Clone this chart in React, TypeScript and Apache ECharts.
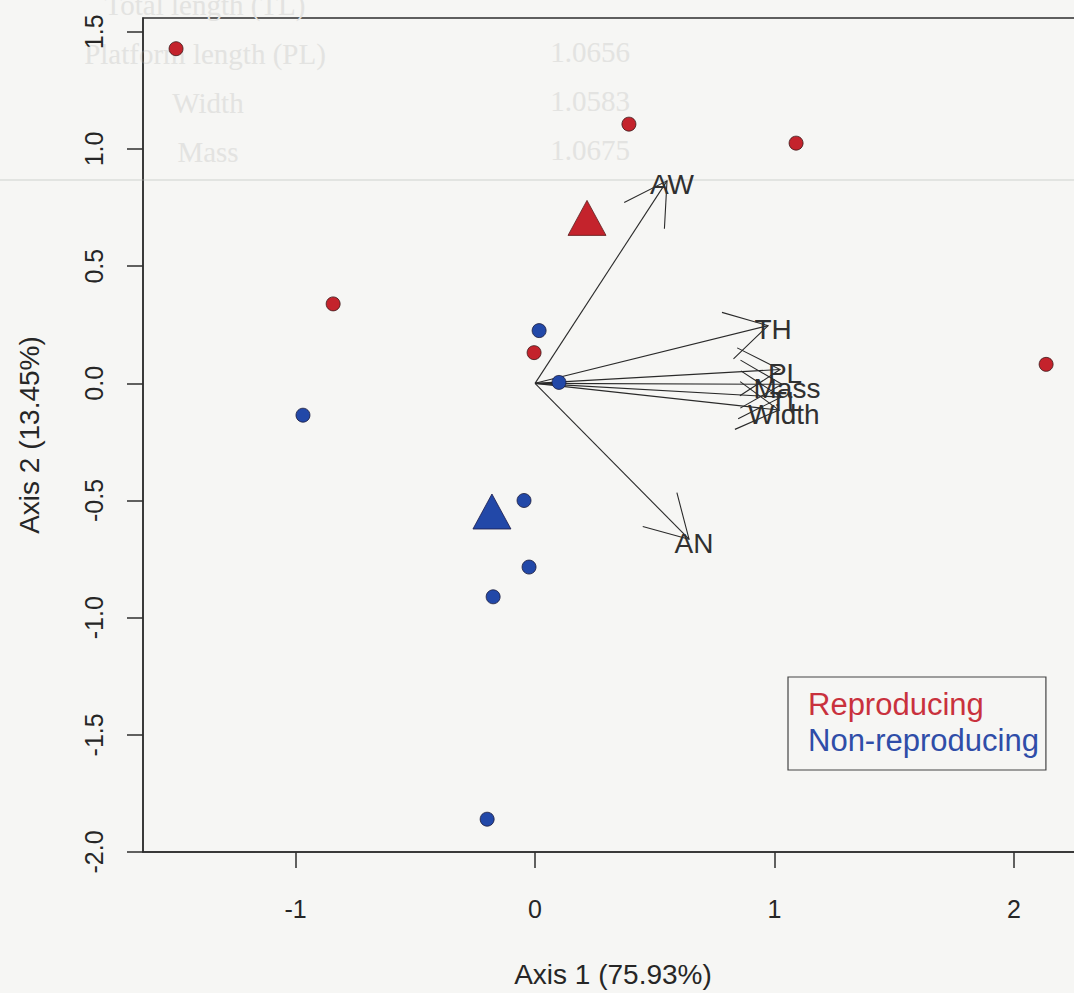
import React, { useEffect, useRef } from "react";
import * as echarts from "echarts";

// ---- data ----
const reproX = [-1.499, 0.392, 1.09, -0.843, -0.004, 2.134];
const reproY = [1.428, 1.106, 1.025, 0.339, 0.131, 0.081];
const nonX = [0.017, 0.1, -0.969, -0.046, -0.025, -0.175, -0.2];
const nonY = [0.225, 0.004, -0.136, -0.5, -0.784, -0.911, -1.86];
const centroidRepro = [0.217, 0.706];
const centroidNon = [-0.18, -0.547];
const varNames = ["AW", "TH", "PL", "Mass", "TL", "Width", "AN"];
const varX = [0.551, 0.973, 1.023, 1.031, 1.027, 1.018, 0.643];
const varY = [0.864, 0.246, 0.059, -0.004, -0.059, -0.114, -0.665];
const xTicks = [-1, 0, 1, 2];
const yTicks = [-2, -1.5, -1, -0.5, 0, 0.5, 1, 1.5];
const groupNames = ["Reproducing", "Non-reproducing"];
const xTitle = "Axis 1 (75.93%)";
const yTitle = "Axis 2 (13.45%)";
// faint bleed-through text of the scanned page
const ghostRows = ["Total length (TL)", "Platform length (PL)", "Width", "Mass"];
const ghostNums = ["", "1.0656", "1.0583", "1.0675"];

const RED = "#c4232c";
const BLUE = "#2248a8";
const FONT = "'Liberation Sans', Arial, sans-serif";

export default function App() {
  const ref = useRef<HTMLDivElement>(null);
  useEffect(() => {
    if (!ref.current) return;
    const chart = echarts.init(ref.current, null, { renderer: "svg" });
    const ghost: any[] = [];
    ghostRows.forEach((t, i) => {
      ghost.push({
        type: "text",
        x: i < 2 ? 205 : 208,
        y: 5 + i * 49,
        z: 0,
        style: {
          text: t,
          fontSize: 29,
          fontFamily: "'Liberation Serif', serif",
          fill: "#e3e3e1",
          align: "center",
          verticalAlign: "middle",
        },
      });
      if (ghostNums[i]) {
        ghost.push({
          type: "text",
          x: 590,
          y: 3 + i * 49,
          z: 0,
          style: {
            text: ghostNums[i],
            fontSize: 29,
            fontFamily: "'Liberation Serif', serif",
            fill: "#e3e3e1",
            align: "center",
            verticalAlign: "middle",
          },
        });
      }
    });
    ghost.push({
      type: "line",
      z: 0,
      shape: { x1: 0, y1: 180, x2: 1100, y2: 180 },
      style: { stroke: "#e2e4e1", lineWidth: 2 },
    });

    const arrowData = varX.map((x, i) => [x, varY[i]]);

    chart.setOption({
      animation: false,
      backgroundColor: "#f6f6f4",
      textStyle: { fontFamily: FONT },
      graphic: ghost,
      grid: {
        left: 143,
        right: 17,
        top: 18,
        bottom: 136,
        show: true,
        borderColor: "#2e2e2e",
        borderWidth: 1.5,
        backgroundColor: "transparent",
      },
      legend: {
        orient: "vertical",
        left: 788,
        top: 677,
        padding: [12, 7, 14, 15],
        itemGap: 5,
        itemWidth: 0,
        itemHeight: 1,
        borderColor: "#444",
        borderWidth: 1.2,
        selectedMode: false,
        data: [
          { name: groupNames[0], icon: "none", textStyle: { color: "#c9313d" } },
          { name: groupNames[1], icon: "none", textStyle: { color: "#2f4da8" } },
        ],
        textStyle: { fontSize: 31, lineHeight: 31, fontFamily: FONT },
      },
      xAxis: {
        type: "value",
        min: -1.637,
        max: 2.288,
        splitLine: { show: false },
        axisLine: { show: true, onZero: false, lineStyle: { color: "#2e2e2e", width: 1.5 } },
        axisTick: { show: true, length: 16, customValues: xTicks, lineStyle: { color: "#2e2e2e", width: 1.5 } },
        axisLabel: {
          customValues: xTicks,
          formatter: (v: number) => String(v),
          fontSize: 25,
          color: "#262626",
          margin: 44,
        },
        name: xTitle,
        nameLocation: "middle",
        nameGap: 108,
        nameTextStyle: { fontSize: 28, color: "#262626" },
      },
      yAxis: {
        type: "value",
        min: -2,
        max: 1.559,
        splitLine: { show: false },
        axisLine: { show: true, onZero: false, lineStyle: { color: "#2e2e2e", width: 1.5 } },
        axisTick: { show: true, length: 16, customValues: yTicks, lineStyle: { color: "#2e2e2e", width: 1.5 } },
        axisLabel: {
          customValues: yTicks,
          formatter: (v: number) => v.toFixed(1),
          fontSize: 25,
          color: "#262626",
          rotate: 90,
          margin: 37,
        },
        name: yTitle,
        nameLocation: "middle",
        nameGap: 100,
        nameTextStyle: { fontSize: 28, color: "#262626" },
      },
      series: [
        {
          type: "custom",
          name: "vectors",
          z: 3,
          silent: true,
          data: arrowData,
          renderItem: (params: any, api: any) => {
            const o = api.coord([0, 0]);
            const t = api.coord([api.value(0), api.value(1)]);
            const dx = t[0] - o[0];
            const dy = t[1] - o[1];
            const len = Math.hypot(dx, dy) || 1;
            const rx = -dx / len;
            const ry = -dy / len;
            const hl = 48;
            const a = Math.PI / 6;
            const c = Math.cos(a);
            const s = Math.sin(a);
            const h1 = [t[0] + hl * (rx * c - ry * s), t[1] + hl * (rx * s + ry * c)];
            const h2 = [t[0] + hl * (rx * c + ry * s), t[1] + hl * (-rx * s + ry * c)];
            return {
              type: "group",
              children: [
                {
                  type: "line",
                  shape: { x1: o[0], y1: o[1], x2: t[0], y2: t[1] },
                  style: { stroke: "#2a2a2a", lineWidth: 1.1 },
                },
                {
                  type: "polyline",
                  shape: { points: [h1, t, h2] },
                  style: { stroke: "#2a2a2a", lineWidth: 1.1, fill: null },
                },
                {
                  type: "text",
                  x: t[0] + 5,
                  y: t[1] + 4,
                  style: {
                    text: varNames[params.dataIndex],
                    fontSize: 28,
                    fontFamily: FONT,
                    fill: "#303030",
                    align: "center",
                    verticalAlign: "middle",
                  },
                },
              ],
            };
          },
        },
        {
          type: "scatter",
          name: groupNames[0],
          z: 4,
          symbol: "circle",
          symbolSize: 14,
          itemStyle: { color: RED, borderColor: "#3a1a1a", borderWidth: 0.8, opacity: 1 },
          data: reproX.map((x, i) => [x, reproY[i]]),
        },
        {
          type: "scatter",
          name: groupNames[1],
          z: 4,
          symbol: "circle",
          symbolSize: 14,
          itemStyle: { color: BLUE, borderColor: "#1a1a3a", borderWidth: 0.8, opacity: 1 },
          data: nonX.map((x, i) => [x, nonY[i]]),
        },
        {
          type: "scatter",
          name: "centroid-repro",
          z: 5,
          symbol: "triangle",
          symbolSize: [38, 35],
          itemStyle: { color: RED, borderColor: "#5a1a1a", borderWidth: 0.8, opacity: 1 },
          data: [centroidRepro],
        },
        {
          type: "scatter",
          name: "centroid-non",
          z: 5,
          symbol: "triangle",
          symbolSize: [38, 35],
          itemStyle: { color: BLUE, borderColor: "#1a1a4a", borderWidth: 0.8, opacity: 1 },
          data: [centroidNon],
        },
      ],
    });
    return () => chart.dispose();
  }, []);

  return (
    <div
      style={{
        position: "fixed",
        left: 0,
        top: 0,
        width: 1074,
        height: 993,
        overflow: "hidden",
        background: "#f6f6f4",
      }}
    >
      <div ref={ref} style={{ width: 1100, height: 993 }} />
    </div>
  );
}
